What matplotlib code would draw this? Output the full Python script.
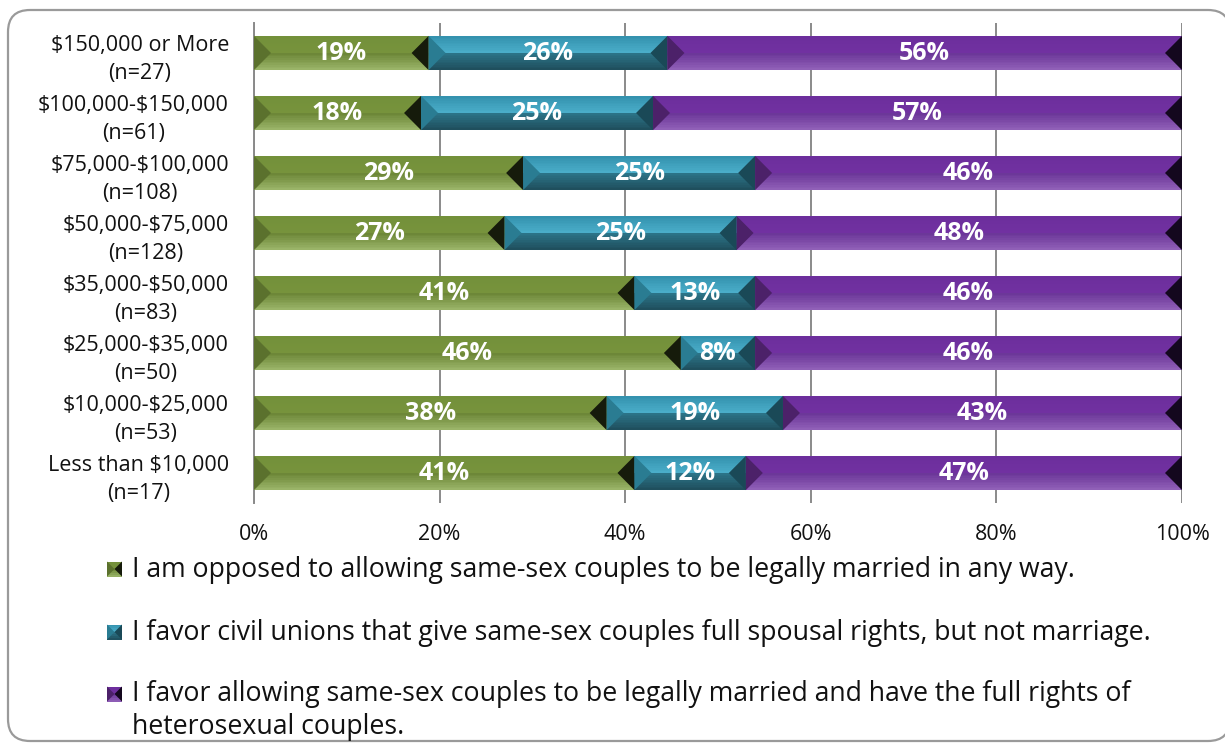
import numpy as np
import matplotlib
matplotlib.use("Agg")
import matplotlib.pyplot as plt
from matplotlib.patches import Polygon, Rectangle, FancyBboxPatch
from matplotlib.colors import to_rgb

plt.rcParams['font.family'] = ['Open Sans', 'DejaVu Sans']
plt.rcParams['text.parse_math'] = False

# ---- data ----
categories = [
    "$150,000 or More\n(n=27)",
    "$100,000-$150,000\n(n=61)",
    "$75,000-$100,000\n(n=108)",
    "$50,000-$75,000\n(n=128)",
    "$35,000-$50,000\n(n=83)",
    "$25,000-$35,000\n(n=50)",
    "$10,000-$25,000\n(n=53)",
    "Less than $10,000\n(n=17)",
]
opposed = [19, 18, 29, 27, 41, 46, 38, 41]
civil_unions = [26, 25, 25, 25, 13, 8, 19, 12]
full_marriage = [56, 57, 46, 48, 46, 46, 43, 47]

series_labels = [
    "I am opposed to allowing same-sex couples to be legally married in any way.",
    "I favor civil unions that give same-sex couples full spousal rights, but not marriage.",
    "I favor allowing same-sex couples to be legally married and have the full rights of\nheterosexual couples.",
]
x_ticks = [0, 20, 40, 60, 80, 100]

# bevel palettes: (top-half upper, top-half lower, bottom-half upper, bottom-half lower,
#                  left facet, right facet)
palettes = [
    ("#73903A", "#77933C", "#6A8535", "#9CB66B", "#5B712D", "#161B0B"),
    ("#3390AC", "#4BAECA", "#2C7589", "#1E4D5B", "#2A7C92", "#1A4957"),
    ("#6C2E9C", "#7131A1", "#6A3597", "#9262B9", "#4C2169", "#14081E"),
]


def mix(c1, c2, t):
    a, b = np.array(to_rgb(c1)), np.array(to_rgb(c2))
    return tuple(a + (b - a) * t)


def bevel(ax, x0, x1, y_top, y_bot, tri_w, pal, zorder=3, nstripe=10):
    """Draw a bevelled block; y_top is the visually upper edge."""
    y_mid = (y_top + y_bot) / 2
    tri_w = min(tri_w, (x1 - x0) / 2)
    for half, (ca, cb) in enumerate([(pal[0], pal[1]), (pal[2], pal[3])]):
        ya = y_top if half == 0 else y_mid
        yb = y_mid if half == 0 else y_bot
        edges = np.linspace(ya, yb, nstripe + 1)
        for i in range(nstripe):
            ax.add_patch(Rectangle((x0, edges[i]), x1 - x0, edges[i + 1] - edges[i],
                                   facecolor=mix(ca, cb, (i + 0.5) / nstripe),
                                   edgecolor="none", zorder=zorder))
    ax.add_patch(Polygon([(x0, y_top), (x0 + tri_w, y_mid), (x0, y_bot)],
                         closed=True, facecolor=pal[4], edgecolor="none", zorder=zorder + 0.1))
    ax.add_patch(Polygon([(x1, y_top), (x1 - tri_w, y_mid), (x1, y_bot)],
                         closed=True, facecolor=pal[5], edgecolor="none", zorder=zorder + 0.1))


W, H = 1225, 743
fig = plt.figure(figsize=(W / 100, H / 100), dpi=100)

# overlay in pixel units for the frame and legend
ov = fig.add_axes([0, 0, 1, 1], zorder=0)
ov.set_xlim(0, W)
ov.set_ylim(H, 0)
ov.axis("off")
ov.add_patch(FancyBboxPatch((8, 10), 1222, 731, boxstyle="round,pad=0,rounding_size=22",
                            facecolor="white", edgecolor="#9A9A9A", linewidth=1.6))

ax = fig.add_axes([254 / W, 1 - 503 / H, 928 / W, 480 / H], zorder=1)
ax.patch.set_alpha(0)

n = len(categories)
y = np.arange(n)
bar_h = 0.57
tri_w = 17 / 928 * 100

data = np.array([opposed, civil_unions, full_marriage], dtype=float)
shares = data / data.sum(axis=0) * 100
lefts = np.vstack([np.zeros(n), np.cumsum(shares, axis=0)[:-1]])

for s in range(3):
    for i in range(n):
        x0 = lefts[s, i]
        x1 = x0 + shares[s, i]
        bevel(ax, x0, x1, y[i] - bar_h / 2, y[i] + bar_h / 2, tri_w, palettes[s])
        ax.text((x0 + x1) / 2, y[i], f"{int(data[s, i])}%", ha="center", va="center",
                color="white", fontsize=18, fontweight="bold", zorder=5)

ax.set_xlim(0, 100)
ax.set_ylim(n - 0.5, -0.5)
ax.set_xticks(x_ticks)
ax.set_xticklabels([f"{t}%" for t in x_ticks], fontsize=15.5, color="#111111")
ax.set_yticks(y)
ax.set_yticklabels(categories, fontsize=15.5, color="#111111", multialignment="center",
                   linespacing=1.45)
ax.tick_params(axis="both", length=0)
ax.tick_params(axis="y", pad=18)
ax.tick_params(axis="x", pad=15)
ax.xaxis.grid(True, color="#8A8A8A", linewidth=1.4)
ax.set_axisbelow(True)
for side in ["top", "right", "bottom"]:
    ax.spines[side].set_visible(False)
ax.spines["left"].set_color("#8A8A8A")
ax.spines["left"].set_linewidth(1.4)

# legend
leg_y = [569, 632, 694]
line_gap = 32
for s in range(3):
    yc = leg_y[s]
    bevel(ov, 107, 122, yc - 7.5, yc + 7.5, 7.5, palettes[s], nstripe=4)
    extra = series_labels[s].count("\n") * line_gap
    ov.text(132, yc + 8 + extra, series_labels[s], ha="left", va="baseline", fontsize=19.2,
            color="#111111", linespacing=1.22)

fig.savefig("out.png", dpi=100)
